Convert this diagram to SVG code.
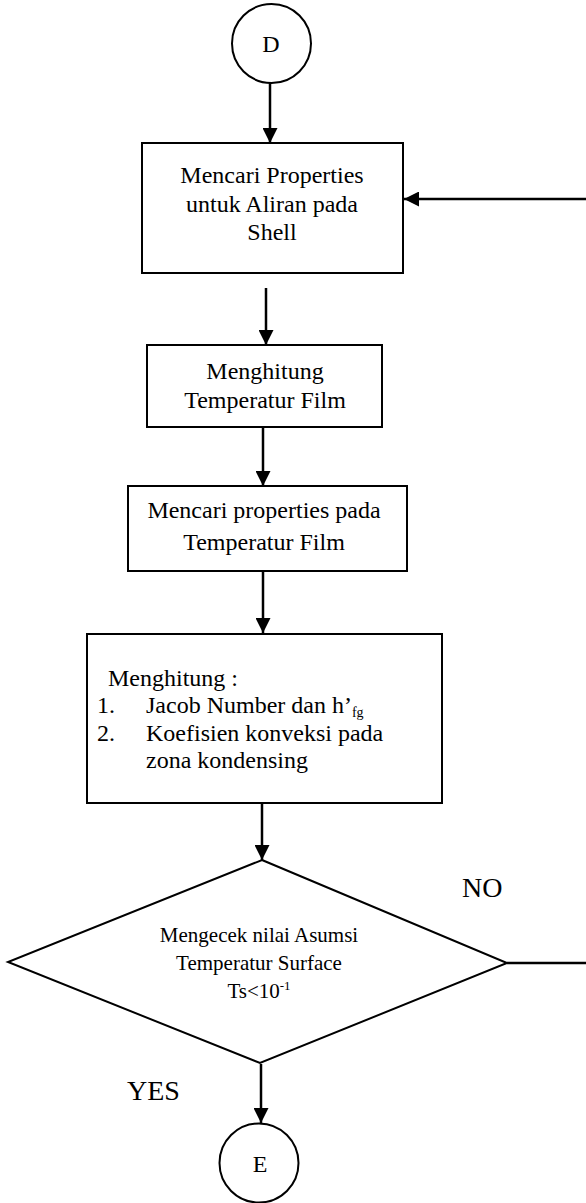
<svg xmlns="http://www.w3.org/2000/svg" width="586" height="1203" viewBox="0 0 586 1203">
<style>
  .shape { fill: #fff; stroke: #000; stroke-width: 2; }
  .line { fill: none; stroke: #000; stroke-width: 2.5; }
  text { font-family: "Liberation Serif", "Times New Roman", serif; fill: #000; }
  .t24 { font-size: 24px; }
  .t21 { font-size: 21px; }
  .t28 { font-size: 28px; }
  .mid { text-anchor: middle; }
</style>
<defs>
  <marker id="arrow" markerUnits="userSpaceOnUse" markerWidth="16" markerHeight="15" refX="15" refY="7.5" orient="auto">
    <path d="M0,0 L15,7.5 L0,15 z" fill="#000"/>
  </marker>
</defs>
<rect width="586" height="1203" fill="#fff"/>

<g id="connectors">
  <line class="line" x1="270" y1="83" x2="270" y2="143" marker-end="url(#arrow)"/>
  <line class="line" x1="586" y1="199" x2="404" y2="199" marker-end="url(#arrow)"/>
  <line class="line" x1="266" y1="288" x2="266" y2="345" marker-end="url(#arrow)"/>
  <line class="line" x1="263" y1="428" x2="263" y2="486" marker-end="url(#arrow)"/>
  <line class="line" x1="263" y1="572" x2="263" y2="633" marker-end="url(#arrow)"/>
  <line class="line" x1="262" y1="804" x2="262" y2="860" marker-end="url(#arrow)"/>
  <line class="line" x1="507" y1="963" x2="586" y2="963"/>
  <line class="line" x1="261" y1="1064" x2="261" y2="1123" marker-end="url(#arrow)"/>
  <text class="t28" x="462" y="897">NO</text>
  <text class="t28" x="127" y="1100">YES</text>
</g>

<g id="node-D">
  <circle class="shape" cx="271.5" cy="43.5" r="39.5"/>
  <text class="t24 mid" x="271" y="52">D</text>
</g>

<g id="node-properties-shell">
  <rect class="shape" x="142" y="143" width="261" height="130"/>
  <text class="t24 mid" x="272" y="183">Mencari Properties</text>
  <text class="t24 mid" x="272" y="212">untuk Aliran pada</text>
  <text class="t24 mid" x="272" y="240">Shell</text>
</g>

<g id="node-temperatur-film">
  <rect class="shape" x="147" y="345" width="235" height="82"/>
  <text class="t24 mid" x="265" y="379">Menghitung</text>
  <text class="t24 mid" x="265" y="408">Temperatur Film</text>
</g>

<g id="node-properties-film">
  <rect class="shape" x="128" y="486" width="279" height="85"/>
  <text class="t24 mid" x="264" y="518">Mencari properties pada</text>
  <text class="t24 mid" x="264" y="550">Temperatur Film</text>
</g>

<g id="node-menghitung">
  <rect class="shape" x="87" y="634" width="355" height="169"/>
  <text class="t24" x="108" y="686">Menghitung :</text>
  <text class="t24" x="97" y="713">1.</text>
  <text class="t24" x="146" y="713">Jacob Number dan h’<tspan font-size="14" dy="4">fg</tspan></text>
  <text class="t24" x="97" y="741">2.</text>
  <text class="t24" x="146" y="741">Koefisien konveksi pada</text>
  <text class="t24" x="146" y="768">zona kondensing</text>
</g>

<g id="node-decision">
  <polygon class="shape" points="262,860 507,963 260,1063 8,962"/>
  <text class="t21 mid" x="259" y="942">Mengecek nilai Asumsi</text>
  <text class="t21 mid" x="259" y="970">Temperatur Surface</text>
  <text class="t21 mid" x="259" y="998">Ts&lt;10<tspan font-size="13" dy="-8">-1</tspan></text>
</g>

<g id="node-E">
  <circle class="shape" cx="259" cy="1163" r="39.5"/>
  <text class="t24 mid" x="260" y="1172">E</text>
</g>
</svg>
